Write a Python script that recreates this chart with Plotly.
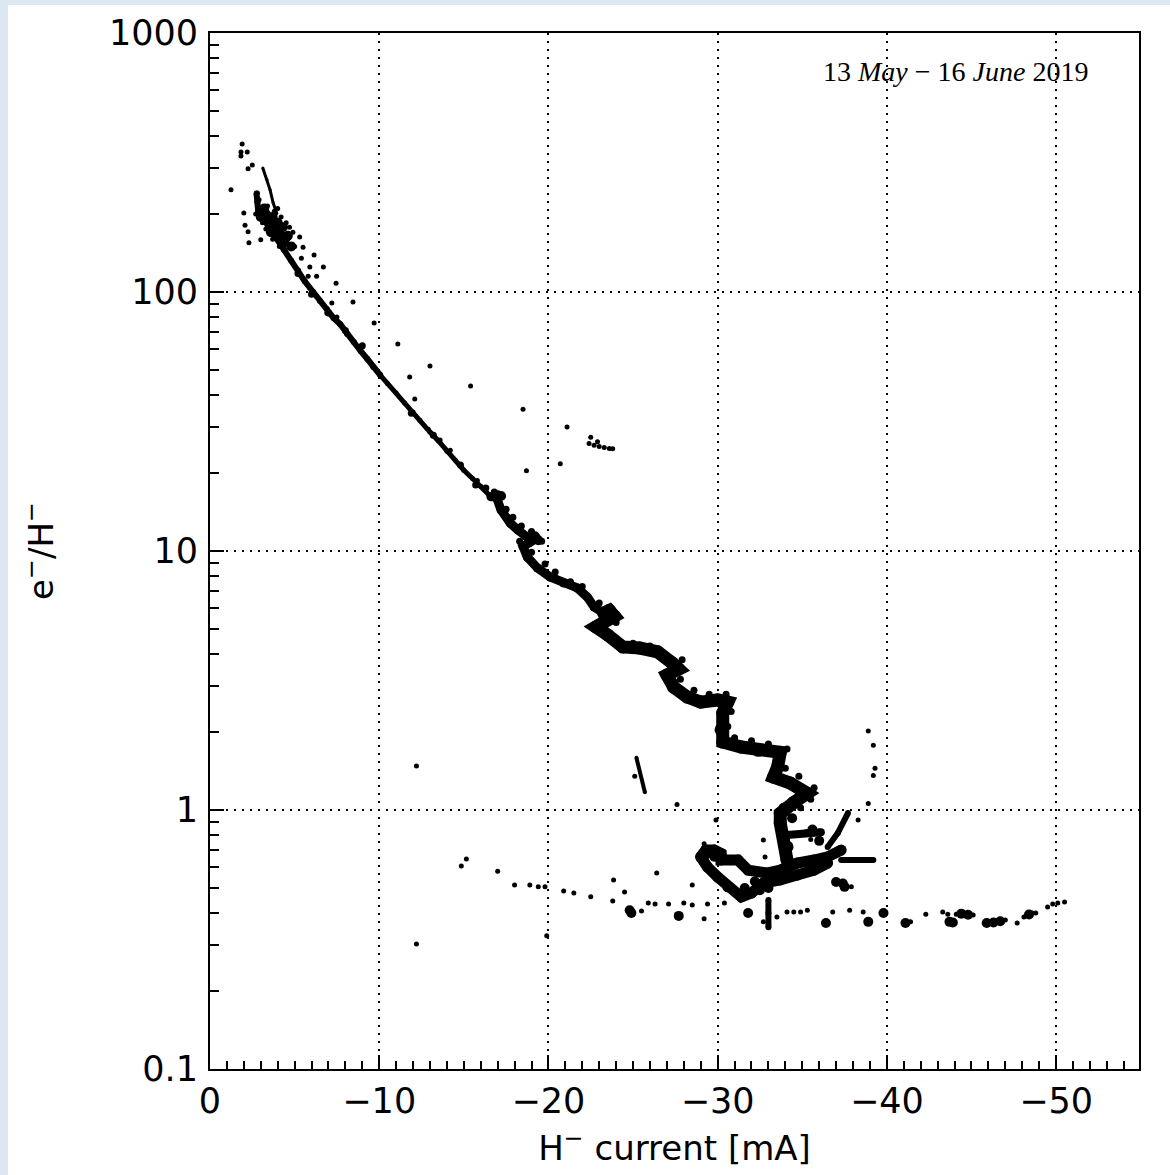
import plotly.graph_objects as go

# ---------------- data ----------------
# H- current [mA] (x) and e-/H- ratio (y)

# thin upper strand
strand_x = [-3.12, -3.37, -3.55, -3.73, -3.95]
strand_y = [301, 271, 248, 221, 201]

# main trend, upper straight part
trend1_x = [-2.75, -2.8, -2.85, -3.2, -3.6, -4.0, -4.4, -4.8, -5.2, -5.6, -6.1, -6.5, -6.9, -7.3, -7.7,
            -8.1, -8.5, -8.9, -9.3, -9.65, -10.06]
trend1_y = [240, 222, 205, 190, 173, 159, 145, 132, 121, 110, 100, 92.3, 86, 79.4, 75,
            68.8, 64.1, 59.2, 55.1, 51.3, 47.8]

trend2_x = [-10.06, -10.5, -11.0, -11.5, -12.0, -12.4, -13.0, -13.5, -14.0, -14.5, -15.0, -15.5, -16.0, -16.6]
trend2_y = [47.8, 44.2, 40.7, 37.3, 34.4, 32.0, 28.8, 26.6, 24.3, 22.4, 20.5, 19.1, 17.8, 16.2]

trend3_x = [-16.6, -16.9, -17.2, -17.75, -18.2, -18.75, -19.3, -18.9, -18.5, -18.75, -19.35, -20.1,
            -20.9, -21.7, -22.3, -22.7, -23.25]
trend3_y = [16.2, 16.3, 14.4, 12.8, 12.05, 11.3, 11.2, 10.8, 10.4, 9.48, 8.6, 7.94,
            7.52, 7.2, 6.64, 6.08, 5.76]

trend4_x = [-23.25, -23.6, -23.9, -22.8, -23.5, -24.4, -25.4, -26.45, -27.3, -27.7, -27.0, -27.4, -28.2,
            -29.0, -30.0, -30.6, -30.3, -30.2, -30.3, -31.4, -32.4, -33.7, -33.55, -33.3, -34.3,
            -35.3, -34.5, -33.7, -33.7, -33.9, -34.1, -34.1]
trend4_y = [5.76, 5.9, 5.6, 5.09, 4.74, 4.26, 4.22, 4.08, 3.70, 3.5, 3.32, 2.98, 2.73,
            2.61, 2.66, 2.61, 2.37, 2.04, 1.83, 1.75, 1.70, 1.67, 1.47, 1.34, 1.27,
            1.16, 1.07, 0.97, 0.89, 0.787, 0.72, 0.64]

# loop near the end of the run
loop_up_x = [-29.0, -29.3, -29.8, -30.2, -30.2, -31.2, -31.8, -32.9, -33.7, -34.7, -35.7, -36.5, -37.3]
loop_up_y = [0.659, 0.70, 0.70, 0.68, 0.641, 0.641, 0.586, 0.571, 0.586, 0.624, 0.641, 0.659, 0.70]
loop_low_x = [-29.0, -29.4, -30.0, -30.6, -31.4, -32.0, -32.7, -33.7, -34.7, -35.7, -36.5]
loop_low_y = [0.659, 0.602, 0.551, 0.505, 0.462, 0.478, 0.522, 0.537, 0.561, 0.586, 0.624]
branch_a_x = [-37.3, -38.3, -39.2]
branch_a_y = [0.641, 0.641, 0.641]
branch_b_x = [-36.5, -37.1, -37.7]
branch_b_y = [0.72, 0.815, 0.973]
branch_c_x = [-34.1, -35.3, -36.1]
branch_c_y = [0.80, 0.815, 0.82]
stem_x = [-33.0, -33.0, -33.0]
stem_y = [0.449, 0.40, 0.353]
stick_x = [-25.2, -25.7]
stick_y = [1.59, 1.17]

# dense blobs
blob_x = [-32.5, -32.8, -33.0, -33.3, -31.6, -32.2, -17.0, -17.2, -19.2, -19.4,
          -3.5, -3.9, -4.2, -3.3, -4.4, -3.7, -4.0, -3.2, -4.6, -3.6, -4.3, -3.0, -4.8,
          -24.8, -24.9, -27.7, -36.4, -38.9, -39.8, -31.8, -41.1, -43.7, -43.9, -45.9, -46.3, -46.7,
          -48.4, -37.0, -37.5, -37.4, -44.4, -44.8, -29.4, -29.8, -29.2, -30.0,
          -34.6, -35.0, -33.9, -34.4, -35.6, -36.0, -27.5, -23.7]
blob_y = [0.49, 0.52, 0.50, 0.55, 0.50, 0.53, 16.4, 16.3, 11.4, 11.0,
          185, 175, 165, 200, 155, 195, 185, 210, 165, 170, 178, 195, 150,
          0.41, 0.40, 0.39, 0.366, 0.37, 0.40, 0.40, 0.366, 0.37, 0.368, 0.366, 0.368, 0.372,
          0.395, 0.527, 0.505, 0.52, 0.398, 0.394, 0.68, 0.66, 0.64, 0.69,
          1.22, 1.12, 1.02, 0.93, 0.84, 0.76, 3.6, 5.9]

# points scattered along the edges of the band
fringe_x = [-17.5, -17.9, -18.4, -19.0, -19.6, -18.3, -19.0, -19.8, -20.4, -21.3, -22.0,
            -23.0, -24.0, -24.0, -25.0, -26.0, -26.8, -27.9, -27.8, -28.6, -29.5, -30.5, -30.8,
            -30.6, -31.0, -32.0, -33.0, -34.1, -34.0, -34.8, -35.7, -35.5, -34.9, -16.3, -16.8,
            -15.7, -14.8, -13.2, -11.9, -9.0, -8.0, -7.0, -6.0, -5.2]
fringe_y = [14.5, 13.5, 12.5, 11.9, 10.9, 10.9, 9.9, 8.9, 8.3, 7.6, 7.3,
            6.3, 5.3, 4.6, 4.4, 4.3, 4.0, 3.8, 3.2, 2.9, 2.8, 2.8, 2.4,
            2.1, 1.9, 1.85, 1.8, 1.72, 1.45, 1.35, 1.22, 1.1, 1.02, 17.5, 16.9,
            18.0, 21.5, 28.0, 34.0, 62.0, 71.0, 83.0, 98.0, 118.0]

# isolated points
dots_x = [-1.9, -1.83, -2.2, -1.83, -2.25, -2.5, -1.24, -2.0, -2.07, -2.25, -2.3, -3.0, -2.8, -2.9,
          -4.7, -5.3, -5.5, -6.15, -6.7, -7.45, -8.45, -7.2, -9.7, -6.9, -7.5, -3.4, -3.8, -4.2, -4.5,
          -3.3, -3.7, -4.1, -4.6, -5.0, -3.1, -2.7, -3.6, -4.0, -4.9, -5.4, -5.9, -5.8, -6.3,
          -11.1, -13.0, -11.8, -12.1, -15.4, -18.5, -18.7, -21.1, -20.7, -22.5, -22.4, -22.7, -23.0,
          -23.3, -23.6, -23.8, -22.9, -12.9, -14.2, -15.8, -13.6,
          -12.2, -12.2, -19.9, -14.85, -15.15, -17.0, -18.0, -18.9, -19.4, -19.8, -20.9, -21.5, -22.5,
          -23.8, -23.85, -24.5, -25.5, -25.9, -26.3, -26.4, -27.1, -28.0, -28.5, -28.5, -29.2, -29.4,
          -29.2, -25.1, -27.6,
          -30.4, -31.8, -32.7, -33.5, -34.1, -34.5, -34.9, -35.3, -36.8, -37.8, -29.9, -32.7, -32.8,
          -39.2, -38.9, -38.3, -38.9, -39.2, -39.3, -35.5, -37.9, -38.6, -39.9, -41.4, -42.3, -43.3,
          -43.6, -44.1, -44.6, -45.1, -47.0, -47.7, -48.1, -48.6, -48.8, -49.5, -49.8, -50.1, -50.5]
dots_y = [373, 347, 347, 335, 299, 309, 248, 202, 181, 171, 155, 159, 241, 227,
          178, 163, 149, 139, 125, 108, 91.5, 90.7, 75.9, 83, 80, 215, 205, 195, 185,
          175, 160, 150, 160, 150, 185, 200, 195, 210, 170, 135, 125, 115, 115,
          63, 51.8, 47, 38.6, 43.4, 35.3, 20.4, 30.1, 21.7, 27.5, 26.0, 25.6, 25.3,
          25.1, 24.9, 24.8, 26.4, 29.5, 24.5, 18.7, 26.8,
          1.48, 0.304, 0.327, 0.608, 0.647, 0.58, 0.513, 0.513, 0.505, 0.505, 0.487, 0.478, 0.462,
          0.445, 0.537, 0.482, 0.407, 0.437, 0.434, 0.571, 0.434, 0.437, 0.513, 0.43, 0.38, 0.434,
          0.74, 1.35, 1.05,
          0.437, 0.40, 0.37, 0.386, 0.404, 0.404, 0.404, 0.41, 0.404, 0.41, 0.915, 0.766, 0.659,
          1.36, 1.06, 0.915, 2.02, 1.78, 1.45, 0.77, 0.505, 0.404, 0.404, 0.37, 0.396, 0.404,
          0.396, 0.396, 0.396, 0.393, 0.376, 0.366, 0.386, 0.40, 0.40, 0.422, 0.434, 0.437, 0.441]

x_tick_vals = [0, -10, -20, -30, -40, -50]
x_tick_text = ["0", "\u221210", "\u221220", "\u221230", "\u221240", "\u221250"]
y_tick_vals = [0.1, 1, 10, 100, 1000]
y_tick_text = ["0.1", "1", "10", "100", "1000"]
y_minor_vals = [m * d for d in (0.1, 1, 10, 100) for m in range(2, 10)]

# ---------------- figure ----------------
fig = go.Figure()

def band(xs, ys, w):
    fig.add_trace(go.Scatter(x=xs, y=ys, mode="lines+markers",
                             line=dict(color="black", width=w),
                             marker=dict(color="black", size=w),
                             hoverinfo="skip", showlegend=False))

band(strand_x, strand_y, 3)
band(trend1_x, trend1_y, 6)
band(trend2_x, trend2_y, 5)
band(trend3_x, trend3_y, 9)
band(trend4_x, trend4_y, 13)
band(loop_up_x, loop_up_y, 11)
band(loop_low_x, loop_low_y, 11)
band(branch_a_x, branch_a_y, 6)
band(branch_b_x, branch_b_y, 6)
band(branch_c_x, branch_c_y, 8)
band(stem_x, stem_y, 6)
band(stick_x, stick_y, 4)

fig.add_trace(go.Scatter(x=blob_x, y=blob_y, mode="markers",
                         marker=dict(color="black", size=10),
                         hoverinfo="skip", showlegend=False))
fig.add_trace(go.Scatter(x=fringe_x, y=fringe_y, mode="markers",
                         marker=dict(color="black", size=7),
                         hoverinfo="skip", showlegend=False))
fig.add_trace(go.Scatter(x=dots_x, y=dots_y, mode="markers",
                         marker=dict(color="black", size=5),
                         hoverinfo="skip", showlegend=False))

axis_common = dict(
    showline=True, linecolor="black", linewidth=2, mirror=True,
    ticks="inside", tickcolor="black", tickwidth=2, ticklen=14,
    showgrid=True, gridcolor="black", gridwidth=1.5, griddash="2px,6px",
    zeroline=False,
    tickfont=dict(family="DejaVu Sans", size=35, color="black"),
)

fig.update_xaxes(
    range=[0, -54.9], tickmode="array", tickvals=x_tick_vals, ticktext=x_tick_text,
    minor=dict(dtick=1, ticks="inside", ticklen=8, tickwidth=1.5, tickcolor="black", showgrid=False),
    ticklabelstandoff=0,
    title=dict(text="H<sup>\u2212</sup> current [mA]", font=dict(family="DejaVu Sans", size=34, color="black"),
               standoff=16),
    **axis_common)

fig.update_yaxes(
    type="log", range=[-1, 3], tickmode="array", tickvals=y_tick_vals, ticktext=y_tick_text,
    minor=dict(tickmode="array", tickvals=y_minor_vals, ticks="inside", ticklen=9, tickwidth=1.5,
               tickcolor="black", showgrid=False),
    ticklabelstandoff=3,
    title=dict(text="e<sup>\u2212</sup>/H<sup>\u2212</sup>", font=dict(family="DejaVu Sans", size=34, color="black"),
               standoff=45),
    **axis_common)

fig.add_annotation(
    text="13 <i>May</i> \u2212 16 <i>June</i> 2019", xref="paper", yref="paper",
    x=0.947, y=0.963, xanchor="right", yanchor="middle", showarrow=False,
    font=dict(family="Liberation Serif", size=28, color="black"))

# light blue frame at left/top, white page inside
fig.add_shape(type="rect", xref="paper", yref="paper", layer="below",
              x0=(8 - 210) / 929, x1=(1172 - 210) / 929, y0=(1069 - 1177) / 1036, y1=(1069 - 5) / 1036,
              fillcolor="white", line=dict(width=0))

fig.update_layout(
    width=1170, height=1175,
    margin=dict(l=210, r=31, t=33, b=106, autoexpand=False),
    paper_bgcolor="#dde7f2", plot_bgcolor="white",
    showlegend=False,
)

fig.write_html("out.html", config={"displayModeBar": False},
               post_script="document.body.style.margin='0px';document.body.style.overflow='hidden';")
